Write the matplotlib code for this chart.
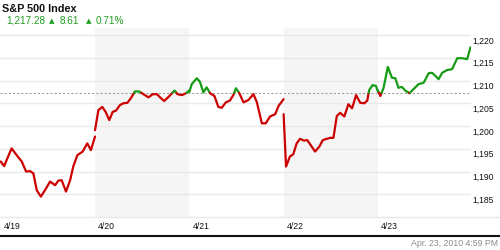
import matplotlib
matplotlib.use("Agg")
import matplotlib.pyplot as plt
from matplotlib.lines import Line2D
from matplotlib import transforms
import numpy as np

# ---------------- data ----------------
day_labels = ["4/19", "4/20", "4/21", "4/22", "4/23"]
session_minutes = 390

d1_min = [0, 14, 45, 66, 87, 105, 121, 135, 149, 166, 183, 204, 225, 238, 252, 270, 287, 300, 317, 339, 358, 373, 390]
d1_val = [1192.2, 1191.2, 1195.1, 1193.6, 1192.2, 1190.0, 1190.1, 1189.6, 1185.9, 1184.5, 1185.9, 1187.8, 1187.0,
          1188.0, 1188.1, 1185.6, 1188.1, 1191.1, 1193.6, 1194.4, 1196.2, 1194.7, 1197.7]

d2_min = [0, 14, 30, 44, 59, 73, 87, 103, 117, 134, 148, 165, 183, 200, 221, 239, 256, 269, 286, 304, 318, 329, 341, 360, 376, 390]
d2_val = [1199.1, 1203.5, 1204.2, 1203.1, 1201.3, 1203.1, 1203.4, 1204.6, 1205.0, 1205.1, 1206.1, 1207.6, 1207.6,
          1207.0, 1206.3, 1207.0, 1207.0, 1206.3, 1205.5, 1206.4, 1207.2, 1207.8, 1207.0, 1206.8, 1207.2, 1207.8]

d3_min = [0, 10, 31, 44, 58, 72, 86, 104, 120, 134, 151, 168, 182, 193, 207, 224, 244, 265, 279, 300, 316, 334, 355, 369, 390]
d3_val = [1207.5, 1209.2, 1210.5, 1209.7, 1207.4, 1208.5, 1207.2, 1206.6, 1204.2, 1204.0, 1205.2, 1205.6, 1206.8,
          1208.3, 1207.2, 1205.2, 1205.7, 1207.0, 1205.3, 1200.6, 1200.6, 1202.1, 1202.6, 1204.4, 1205.9]

d4_min = [0, 10, 26, 40, 54, 68, 84, 98, 116, 130, 148, 162, 179, 192, 206, 220, 234, 251, 268, 283, 300, 317, 334,
          346, 354, 368, 382, 390]
d4_val = [1202.6, 1191.1, 1193.3, 1193.8, 1196.2, 1197.2, 1196.8, 1196.9, 1195.5, 1194.4, 1195.5, 1196.9, 1197.2,
          1197.4, 1197.4, 1202.2, 1202.9, 1202.1, 1204.8, 1203.9, 1206.8, 1205.1, 1205.0, 1205.6, 1207.9, 1209.0,
          1208.8, 1207.6]

d5_min = [0, 10, 23, 41, 58, 72, 85, 99, 113, 131, 147, 168, 189, 210, 224, 238, 251, 266, 286, 307, 328, 349, 369, 383]
d5_val = [1207.8, 1206.6, 1208.3, 1213.0, 1210.6, 1210.5, 1208.4, 1208.6, 1207.8, 1207.2, 1208.1, 1209.2, 1209.5,
          1211.6, 1211.7, 1211.0, 1210.3, 1211.7, 1212.3, 1212.5, 1214.9, 1214.9, 1214.7, 1217.3]

days_min = [d1_min, d2_min, d3_min, d4_min, d5_min]
days_val = [d1_val, d2_val, d3_val, d4_val, d5_val]

prev_close = 1207.3
y_ticks = [1185, 1190, 1195, 1200, 1205, 1210, 1215, 1220]
y_tick_labels = ["1,185", "1,190", "1,195", "1,200", "1,205", "1,210", "1,215", "1,220"]

title = "S&P 500 Index"
last_price = "1,217.28"
change = "8.61"
change_pct = "0.71%"
timestamp = "Apr. 23, 2010 4:59 PM"

# ---------------- style ----------------
RED = "#cc0000"
GREEN = "#169b16"
HDR_GREEN = "#1e9e1e"
FONT = ["Liberation Sans", "DejaVu Sans"]

W, H = 500, 250
fig = plt.figure(figsize=(W / 100, H / 100), dpi=100)
fig.patch.set_facecolor("white")

ax_top_px, ax_bot_px, ax_right_px = 28, 236, 471
ax = fig.add_axes([0, 1 - ax_bot_px / H, ax_right_px / W, (ax_bot_px - ax_top_px) / H])
ax.set_axis_off()
ax.set_xlim(-3, 1945)
ax.set_ylim(1175.84, 1221.54)

# shaded alternate days
for i in (1, 3):
    ax.fill_between([i * session_minutes, (i + 1) * session_minutes], 1180, 1221.54,
                    color="#f5f5f5", lw=0, zorder=0)

# gridlines
for v in y_ticks:
    ax.axhline(v, color="#e9e9e9", lw=1, zorder=1)
bt = transforms.blended_transform_factory(fig.transFigure, ax.transData)
fig.add_artist(Line2D([0, 1], [1180, 1180], transform=bt, color="#e9e9e9", lw=1, zorder=1))

# previous close dashed
ax.axhline(prev_close, xmin=0, xmax=469 / 471, color="#9a9a9a", lw=0.75,
           linestyle=(0, (2, 2)), zorder=2)


def runs(xs, ys, base):
    pts = [(xs[0], ys[0])]
    out = []
    above = ys[0] >= base
    for i in range(1, len(xs)):
        x0, y0, x1, y1 = xs[i - 1], ys[i - 1], xs[i], ys[i]
        a1 = y1 >= base
        if a1 != above:
            t = (base - y0) / (y1 - y0)
            xc = x0 + t * (x1 - x0)
            pts.append((xc, base))
            out.append((above, pts))
            pts = [(xc, base)]
            above = a1
        pts.append((x1, y1))
    out.append((above, pts))
    return out


for i, (mins, vals) in enumerate(zip(days_min, days_val)):
    xs = [i * session_minutes + m for m in mins]
    for above, pts in runs(xs, vals, prev_close):
        p = np.array(pts)
        ax.plot(p[:, 0], p[:, 1], color=GREEN if above else RED, lw=1.6,
                solid_capstyle="round", solid_joinstyle="round", zorder=3)

# y labels on the right
lab_tr = transforms.offset_copy(transforms.blended_transform_factory(ax.transAxes, ax.transData),
                                fig=fig, y=-6, units="dots")
for v, s in zip(y_ticks, y_tick_labels):
    ax.text(472.5 / 471, v, s, transform=lab_tr, ha="left", va="center",
            fontsize=6.2, color="#111111", family=FONT, clip_on=False)

# date labels
d_tr = transforms.offset_copy(transforms.blended_transform_factory(ax.transData, ax.transAxes),
                              fig=fig, x=3, units="dots")
for i, lab in enumerate(day_labels):
    ax.text(i * session_minutes, (ax_bot_px - 226.7) / (ax_bot_px - ax_top_px), lab,
            transform=d_tr, ha="left", va="center", fontsize=6.2, color="#111111", family=FONT)

# bottom black rule
fig.add_artist(Line2D([0, 1], [1 - 236 / H, 1 - 236 / H], transform=fig.transFigure,
                      color="#111111", lw=1.5))

# header
fig.text(2 / W, 1 - 8.5 / H, title, fontsize=7.8, weight="bold", family=FONT,
         ha="left", va="center", color="#111111")
hy = 1 - 20.5 / H
fig.text(6 / W, hy, last_price, fontsize=7.2, family=FONT, color=HDR_GREEN, ha="left", va="center")
fig.text(49 / W, hy - 0.002, "\u25b2", fontsize=5.2, family=["DejaVu Sans"], color=HDR_GREEN, ha="left", va="center")
fig.text(60 / W, hy, change, fontsize=7.2, family=FONT, color=HDR_GREEN, ha="left", va="center")
fig.text(86 / W, hy - 0.002, "\u25b2", fontsize=5.2, family=["DejaVu Sans"], color=HDR_GREEN, ha="left", va="center")
fig.text(96 / W, hy, change_pct, fontsize=7.2, family=FONT, color=HDR_GREEN, ha="left", va="center")

# timestamp
fig.text(498 / W, 1 - 244 / H, timestamp, fontsize=6.3, family=FONT, color="#8c8c8c",
         ha="right", va="center")

fig.savefig("out.png", dpi=100)
